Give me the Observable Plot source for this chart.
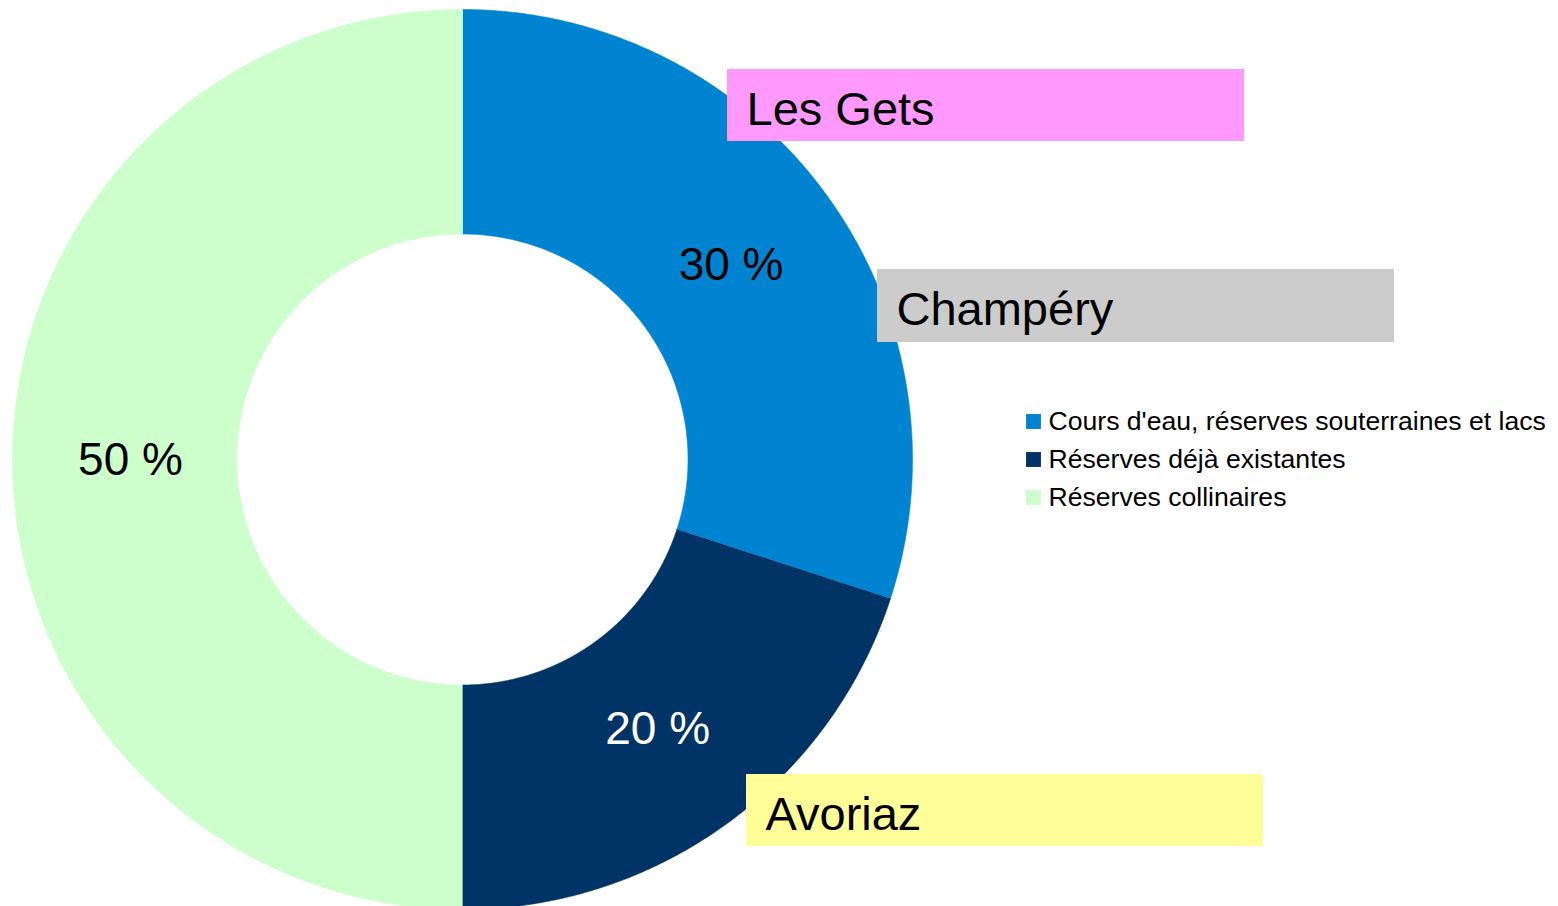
<!DOCTYPE html>
<html>
<head>
<meta charset="utf-8">
<script src="https://cdn.jsdelivr.net/npm/d3@7"></script>
<script src="https://cdn.jsdelivr.net/npm/@observablehq/plot@0.6"></script>
<style>
  html, body { margin: 0; padding: 0; background: #ffffff; }
  #chart svg { display: block; }
</style>
</head>
<body>
<div id="chart"></div>
<script>
// ---- data ----
const categories = ["Cours d'eau, réserves souterraines et lacs", "Réserves déjà existantes", "Réserves collinaires"];
const shares = [30, 20, 50];
const sliceColors = ["#0084D1", "#003366", "#CCFFCC"];
const valueLabelColors = ["#000000", "#ffffff", "#000000"];
const stations = ["Les Gets", "Champéry", "Avoriaz"];
const stationColors = ["#FF99FF", "#CCCCCC", "#FFFF99"];

// ---- layout (pixels) ----
const W = 1558, H = 906;
const cx = 462, cy = 459, rOuter = 450, rInner = 225.5, rLabel = 332;
const stationBoxes = [
  {x1: 727, x2: 1244, y1: 69, y2: 141},
  {x1: 877, x2: 1394, y1: 269, y2: 342},
  {x1: 746, x2: 1263, y1: 774, y2: 846}
];
const legendX = 1033, legendY0 = 421, legendStep = 38;

// ---- build slices from the data ----
const arcs = d3.pie().sort(null)(shares);
const pt = (r, a) => ({x: cx + r * Math.sin(a), y: cy - r * Math.cos(a)});
const slicePts = [];
arcs.forEach((a, i) => {
  const n = Math.max(8, Math.ceil((a.endAngle - a.startAngle) / (Math.PI / 720)));
  for (let k = 0; k <= n; k++) {
    const t = a.startAngle + (a.endAngle - a.startAngle) * k / n;
    slicePts.push({cat: categories[i], ...pt(rOuter, t)});
  }
  for (let k = n; k >= 0; k--) {
    const t = a.startAngle + (a.endAngle - a.startAngle) * k / n;
    slicePts.push({cat: categories[i], ...pt(rInner, t)});
  }
});
const valueLabels = arcs.map((a, i) => ({
  text: `${shares[i]} %`,
  ...pt(rLabel, (a.startAngle + a.endAngle) / 2)
}));
const legendRows = categories.map((c, i) => ({cat: c, x: legendX, y: legendY0 + i * legendStep}));

const font = "'Liberation Sans', Arial, Helvetica, sans-serif";

const marks = [
  Plot.line(slicePts, {x: "x", y: "y", z: "cat", fill: "cat", stroke: "cat", strokeWidth: 0.6, curve: "linear"}),
  ...valueLabels.map((d, i) => Plot.text([d], {x: "x", y: "y", text: "text", fill: valueLabelColors[i], fontSize: 46, textAnchor: "middle", dy: 1})),
  ...stationBoxes.map((b, i) => Plot.rect([b], {x1: "x1", x2: "x2", y1: "y1", y2: "y2", fill: stationColors[i]})),
  ...stationBoxes.map((b, i) => Plot.text([b], {x: d => d.x1 + 19, y: d => (d.y1 + d.y2) / 2, text: () => stations[i], fill: "#000000", fontSize: 47, textAnchor: "start", dy: 4})),
  Plot.dot(legendRows, {x: "x", y: "y", fill: "cat", symbol: "square", r: 8.4, stroke: "none"}),
  Plot.text(legendRows, {x: d => d.x + 15, y: "y", text: "cat", fill: "#000000", fontSize: 26.6, textAnchor: "start"})
];

const chart = Plot.plot({
  width: W,
  height: H,
  margin: 0,
  x: {domain: [0, W], range: [0, W], axis: null},
  y: {domain: [0, H], range: [0, H], axis: null},
  color: {domain: categories, range: sliceColors},
  style: {fontFamily: font, background: "#ffffff", overflow: "visible"},
  marks
});
document.getElementById("chart").appendChild(chart);
</script>
</body>
</html>
